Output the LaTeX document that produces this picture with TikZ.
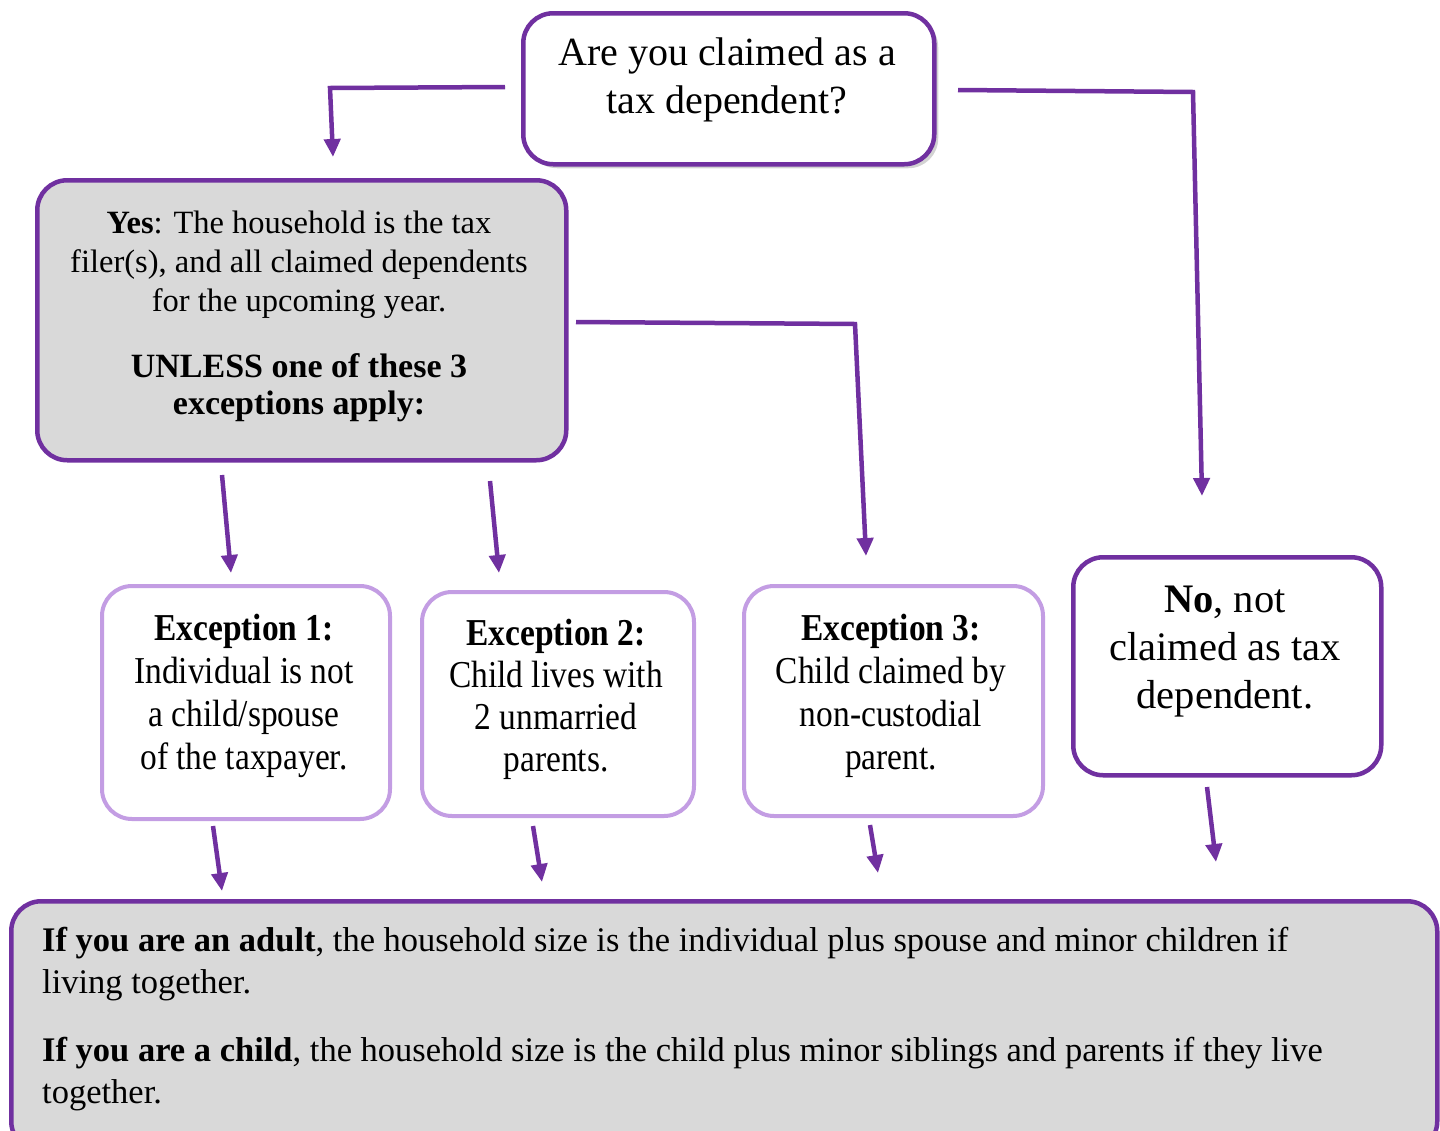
\documentclass[tikz,border=0pt]{standalone}
\usepackage{fontspec}
\setmainfont{Liberation Serif}
\newfontfamily\excfont[FakeStretch=0.88]{Liberation Serif}
\usetikzlibrary{arrows.meta,shadows}
\definecolor{purp}{HTML}{7030A0}
\definecolor{lpurp}{HTML}{C39DE3}
\definecolor{boxgray}{HTML}{D9D9D9}
\tikzset{
  x=1pt,y=-1pt,
  mainbox/.style={draw=purp,line width=4.5pt,rounded corners=30pt},
  excbox/.style={draw=lpurp,line width=4pt,rounded corners=30pt,fill=white},
  conn/.style={draw=purp,line width=4.5pt,-{Triangle[length=18pt,width=16pt]}},
  txt/.style={align=center,inner sep=0pt}
}
\begin{document}
\begin{tikzpicture}
\useasboundingbox (0,0) rectangle (1440,1130);
\clip (0,0) rectangle (1440,1130);
% top question box
\node[mainbox,fill=white,minimum width=411pt,minimum height=151pt,anchor=north west,
  drop shadow={shadow xshift=4pt,shadow yshift=-4pt,opacity=0.35}] (q) at (521,11) {};
\node[txt,font=\fontsize{40}{48}\selectfont] (qt) at (727,80) {Are you claimed as a\\tax dependent?};
% yes box
\node[mainbox,fill=boxgray,minimum width=529pt,minimum height=280pt,anchor=north west] (yes) at (35,178) {};
\node[txt,font=\fontsize{32.5}{39}\selectfont] (yt1) at (299,265) {\textbf{Yes}: The household is the tax\\filer(s), and all claimed dependents\\for the upcoming year.};
\node[txt,font=\fontsize{34}{37}\selectfont\bfseries] (yt2) at (299,388) {UNLESS one of these 3\\exceptions apply:};
% exception boxes
\node[excbox,minimum width=288pt,minimum height=233pt,anchor=north west] (e1) at (100,584) {};
\node[txt,font=\excfont\fontsize{38}{43}\selectfont] (e1t) at (244,696) {\textbf{Exception 1:}\\Individual is not\\a child/spouse\\of the taxpayer.};
\node[excbox,minimum width=272pt,minimum height=224pt,anchor=north west] (e2) at (420,590) {};
\node[txt,font=\excfont\fontsize{38}{42}\selectfont] (e2t) at (556,699) {\textbf{Exception 2:}\\Child lives with\\2 unmarried\\parents.};
\node[excbox,minimum width=299pt,minimum height=230pt,anchor=north west] (e3) at (742,584) {};
\node[txt,font=\excfont\fontsize{38}{43}\selectfont] (e3t) at (891,696) {\textbf{Exception 3:}\\Child claimed by\\non-custodial\\parent.};
% no box
\node[mainbox,fill=white,minimum width=308pt,minimum height=218pt,anchor=north west] (no) at (1071,555) {};
\node[txt,font=\fontsize{40.5}{48}\selectfont] (nt) at (1225,652) {\textbf{No}, not\\claimed as tax\\dependent.};
% bottom box
\node[mainbox,fill=boxgray,minimum width=1426pt,minimum height=250pt,anchor=north west] (bot) at (9,899) {};
\node[inner sep=0pt,align=left,anchor=north west,font=\fontsize{34.5}{42}\selectfont] (bt1) at (42,927)
  {\textbf{If you are an adult}, the household size is the individual plus spouse and minor children if\\living together.};
\node[inner sep=0pt,align=left,anchor=north west,font=\fontsize{34.5}{42}\selectfont] (bt2) at (42,1037)
  {\textbf{If you are a child}, the household size is the child plus minor siblings and parents if they live\\together.};
% connector coordinates
\coordinate (a1s) at (505,87); \coordinate (a1c) at (330,88); \coordinate (a1e) at (333,157);
\coordinate (a2s) at (958,90); \coordinate (a2c) at (1193,92); \coordinate (a2e) at (1202,496);
\coordinate (a3s) at (576,322); \coordinate (a3c) at (855,324); \coordinate (a3e) at (866,556);
\coordinate (a4s) at (222,475); \coordinate (a4e) at (231,573);
\coordinate (a5s) at (490,481); \coordinate (a5e) at (499,573);
\coordinate (a6s) at (213,826); \coordinate (a6e) at (222,891);
\coordinate (a7s) at (533,826); \coordinate (a7e) at (542,882);
\coordinate (a8s) at (870,825); \coordinate (a8e) at (878,873);
\coordinate (a9s) at (1207,787); \coordinate (a9e) at (1216,862);
\draw[conn] (a1s) -- (a1c) -- (a1e);
\draw[conn] (a2s) -- (a2c) -- (a2e);
\draw[conn] (a3s) -- (a3c) -- (a3e);
\draw[conn] (a4s) -- (a4e);
\draw[conn] (a5s) -- (a5e);
\draw[conn] (a6s) -- (a6e);
\draw[conn] (a7s) -- (a7e);
\draw[conn] (a8s) -- (a8e);
\draw[conn] (a9s) -- (a9e);
\end{tikzpicture}
\end{document}
